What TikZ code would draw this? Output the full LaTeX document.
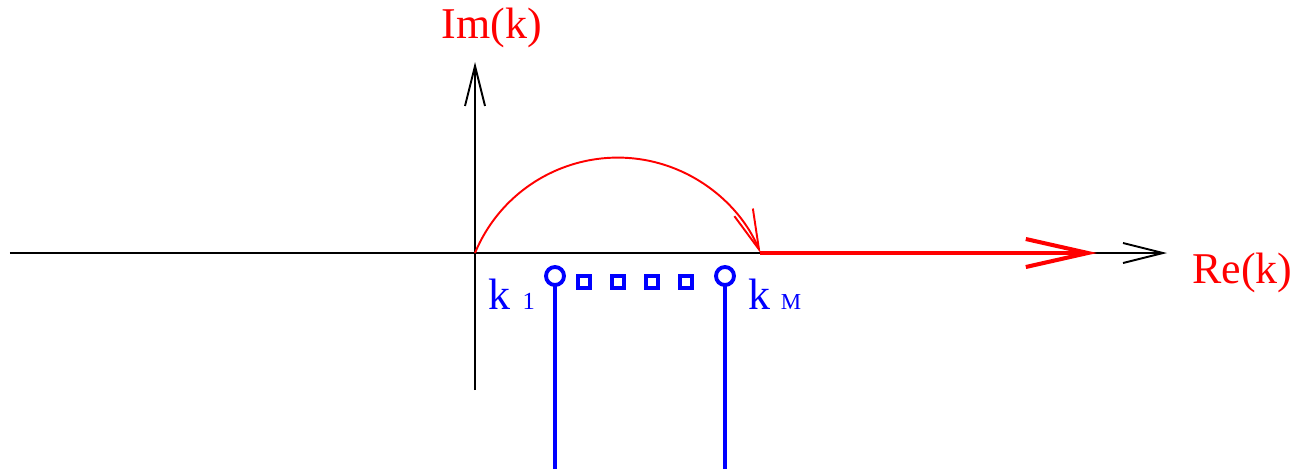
\documentclass[tikz,border=0pt]{standalone}
\usepackage{fontspec}
\setmainfont{Liberation Serif}
\usepackage{tikz}
\usetikzlibrary{calc, arrows.meta}

\tikzset{
  axisline/.style={black, line width=1.1pt},
  contour/.style={red, line width=1.1pt},
  contourthick/.style={red, line width=2.3pt},
  cutline/.style={blue, line width=2.3pt},
  polemark/.style={blue, line width=2.2pt},
  biglabel/.style={inner sep=0pt, font=\fontsize{25}{25}\selectfont}
}

\begin{document}
\begin{tikzpicture}
                \useasboundingbox (-9.5,-4.4) rectangle (16.4,5.06);
                \coordinate (O) at (0,0);
                \coordinate (W) at (-9.3,0);
                \coordinate (E) at (13.84,0);
                \coordinate (S) at (0,-2.74);
                \coordinate (N) at (0,3.82);
                \coordinate (P) at (5.7,0);
                \coordinate (Q) at (12.44,0);
                \coordinate (K1) at (1.6,-0.46);
                \coordinate (KM) at (5.0,-0.46);
                \coordinate (B1) at (1.6,-4.32);
                \coordinate (BM) at (5.0,-4.32);
                % axes
                \draw[axisline, -{Straight Barb[length=0.8cm, width=0.4cm]}] (W) -- (E);
                \draw[axisline, -{Straight Barb[length=0.8cm, width=0.4cm]}] (S) -- (N);
                % contour
                \draw[contour, -{Straight Barb[length=0.8cm, width=0.4cm]}] (O) arc[start angle=157.5, end angle=22.5, radius=3.09];
                \draw[contourthick, -{Straight Barb[length=1.24cm, width=0.56cm]}] (P) -- (Q);
                % cuts and poles
                \draw[polemark] (K1) circle[radius=0.18];
                \draw[polemark] (KM) circle[radius=0.18];
                \draw[cutline] ($(K1)+(0,-0.18)$) -- (B1);
                \draw[cutline] ($(KM)+(0,-0.18)$) -- (BM);
                \foreach \i in {0,...,3}
                  \draw[polemark] ($(2.18+0.68*\i,-0.58)+(-0.12,-0.12)$) rectangle +(0.24,0.24);
                % labels
                \node[biglabel, red, anchor=base] (im) at (0.34,4.3) {Im(k)};
                \node[biglabel, red, anchor=base west] (re) at (14.34,-0.6) {Re(k)};
                \node[biglabel, blue, anchor=base west] (k1) at (0.26,-1.12) {k\hspace{7pt}{\fontsize{14}{14}\selectfont 1}};
                \node[biglabel, blue, anchor=base west] (kM) at (5.46,-1.12) {k\hspace{6pt}{\fontsize{13}{13}\selectfont M}};
            \end{tikzpicture}
\end{document}
